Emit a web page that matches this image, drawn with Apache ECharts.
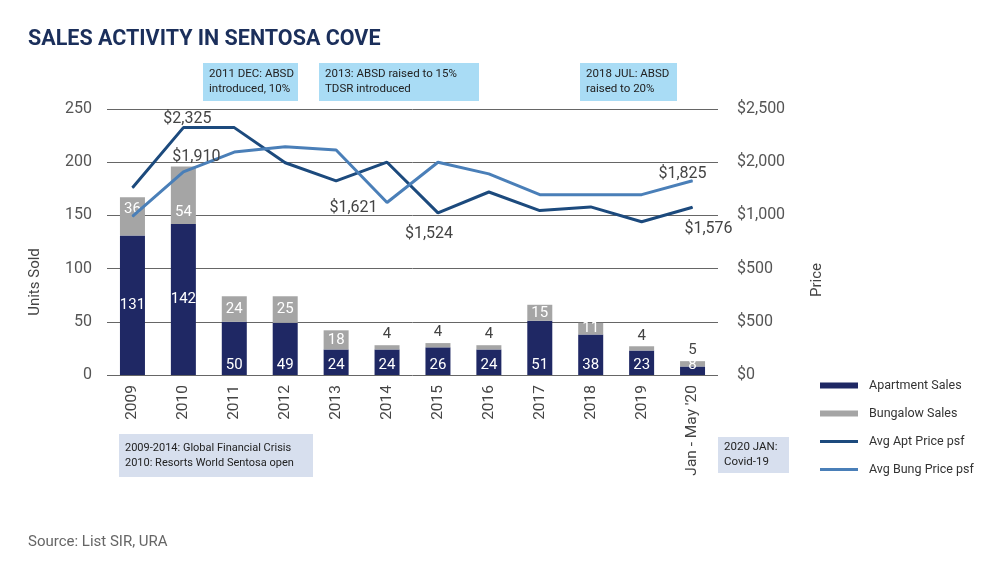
<!DOCTYPE html>
<html><head><meta charset="utf-8">
<script src="https://cdn.jsdelivr.net/npm/echarts@6/dist/echarts.min.js"></script>
<style>html,body{margin:0;padding:0;background:#fff}#c{width:1000px;height:563px}</style>
</head><body><div id="c"></div>
<script>
const categories = ['2009','2010','2011','2012','2013','2014','2015','2016','2017','2018','2019',"Jan - May '20"];
const apartmentSales = [131,142,50,49,24,24,26,24,51,38,23,8];
const bungalowSales = [36,54,24,25,18,4,4,4,15,11,4,5];
const avgAptPrice = [1760,2325,2325,1995,1825,2000,1524,1720,1545,1580,1440,1576];
const avgBungPrice = [1490,1910,2095,2145,2115,1621,2000,1890,1695,1695,1695,1825];
const unitTicks = [0,50,100,150,200,250];
const priceTickLabels = ['$0','$500','$500','$1,000','$2,000','$2,500'];

const FONT = 'Roboto';
const fmt = v => '$' + v.toLocaleString('en-US');

// which price points carry a value label, and where
const aptLabelSpec = {1:{position:'top',offset:[4,5]},6:{position:'bottom',offset:[-9,8]},11:{position:'bottom',offset:[16,8]}};
const bungLabelSpec = {1:{position:'top',offset:[13,-1]},5:{position:'left',offset:[-4,5]},11:{position:'top',offset:[-10,7]}};

function priceData(vals, spec){
  return vals.map((v,i)=>{
    const s = spec[i];
    return s ? {value:v,label:{show:true,position:s.position,offset:s.offset,formatter:p=>fmt(p.value),color:'#444',fontSize:16,fontFamily:FONT}} : {value:v};
  });
}
const aptData = apartmentSales.map(v=>({value:v,label:{position: v>100?'inside':'insideBottom', distance:2}}));
const bungData = bungalowSales.map((v,i)=>{
  if (v<=5) return {value:v,label:{position:'top',color:'#444',distance:3}};
  let pos = 'inside';
  if (i===0) pos='insideTop';
  if (i===1) pos='insideBottom';
  return {value:v,label:{position:pos,distance:4}};
});

const chart = echarts.init(document.getElementById('c'));
const boxText = (x,y,w,h,fill,text,fs)=>({type:'group',left:x,top:y,children:[
  {type:'rect',shape:{x:0,y:0,width:w,height:h},style:{fill:fill}},
  {type:'text',x:6,y:h/2,style:{text:text,fill:'#222',font:(fs||11.5)+'px '+FONT,lineHeight:15,verticalAlign:'middle'}}
]});

chart.setOption({
  animation:false,
  textStyle:{fontFamily:FONT},
  title:{text:'SALES ACTIVITY IN SENTOSA COVE',left:23,top:24,textStyle:{fontSize:21.5,fontWeight:'bold',color:'#1b2f5b',fontFamily:FONT}},
  grid:{left:107,right:282,top:109,bottom:188,containLabel:false},
  legend:{orient:'vertical',left:815,top:374,itemWidth:38,itemHeight:8,itemGap:15,
    textStyle:{fontSize:12.5,color:'#333',fontFamily:FONT,padding:[0,0,0,6]},
    data:[
      {name:'Apartment Sales',icon:'path://M0,0h38v6h-38z'},
      {name:'Bungalow Sales',icon:'path://M0,0h38v6h-38z'},
      {name:'Avg Apt Price psf',icon:'path://M0,0h38v3h-38z'},
      {name:'Avg Bung Price psf',icon:'path://M0,0h38v3h-38z'}
    ]},
  xAxis:{type:'category',data:categories,
    axisLine:{show:false},axisTick:{show:false},
    axisLabel:{rotate:90,margin:10,fontSize:15.5,color:'#444',fontFamily:FONT,interval:0}},
  yAxis:[
    {type:'value',min:0,max:250,interval:50,
      axisLabel:{fontSize:16,color:'#555',margin:15,fontFamily:FONT},
      axisLine:{show:false},axisTick:{show:false},
      splitLine:{lineStyle:{color:'#666',width:1}}},
    {type:'value',min:0,max:2500,interval:500,
      axisLabel:{fontSize:16,color:'#555',margin:19,fontFamily:FONT,formatter:v=>priceTickLabels[Math.round(v/500)]},
      axisLine:{show:false},axisTick:{show:false},splitLine:{show:false}}
  ],
  series:[
    {name:'Apartment Sales',type:'bar',stack:'s',barWidth:25,data:aptData,
      itemStyle:{color:'#1f2864'},
      label:{show:true,color:'#fff',fontSize:15,fontFamily:FONT}},
    {name:'Bungalow Sales',type:'bar',stack:'s',barWidth:25,data:bungData,
      itemStyle:{color:'#a5a5a5'},
      label:{show:true,color:'#fff',fontSize:15,fontFamily:FONT}},
    {name:'Avg Apt Price psf',type:'line',yAxisIndex:1,data:priceData(avgAptPrice,aptLabelSpec),
      symbol:'circle',symbolSize:1,lineStyle:{color:'#1c4a7d',width:3},itemStyle:{color:'#1c4a7d'},
      label:{show:false}},
    {name:'Avg Bung Price psf',type:'line',yAxisIndex:1,data:priceData(avgBungPrice,bungLabelSpec),
      symbol:'circle',symbolSize:1,lineStyle:{color:'#4a7fb8',width:3},itemStyle:{color:'#4a7fb8'},
      label:{show:false}}
  ],
  graphic:[
    boxText(203,63,95,38,'#a9dcf5','2011 DEC: ABSD\nintroduced, 10%'),
    boxText(319,63,160,38,'#a9dcf5','2013: ABSD raised to 15%\nTDSR introduced'),
    boxText(580,63,97,38,'#a9dcf5','2018 JUL: ABSD\nraised to 20%'),
    boxText(119,434,194,43,'#d7dfee','2009-2014: Global Financial Crisis\n2010: Resorts World Sentosa open',11),
    boxText(718,437,71,36,'#d7dfee','2020 JAN:\nCovid-19'),
    {type:'text',x:35,y:282,rotation:Math.PI/2,style:{text:'Units Sold',fill:'#444',font:'15px '+FONT,align:'center',verticalAlign:'middle'}},
    {type:'text',x:817,y:280,rotation:Math.PI/2,style:{text:'Price',fill:'#444',font:'15px '+FONT,align:'center',verticalAlign:'middle'}},
    {type:'text',left:28,top:535,style:{text:'Source: List SIR, URA',fill:'#666',font:'15px '+FONT}}
  ]
});
</script></body></html>
